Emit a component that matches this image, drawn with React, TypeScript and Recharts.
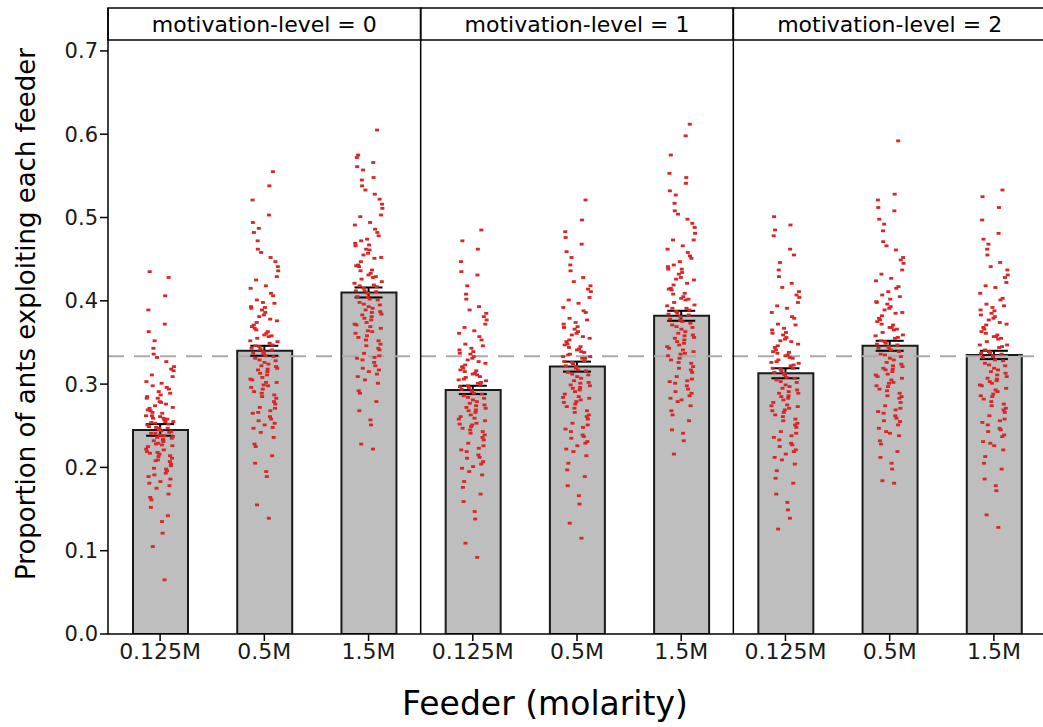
import React from 'react';
import { ComposedChart, Bar, Scatter, XAxis, YAxis, ReferenceLine, ReferenceArea, ErrorBar } from 'recharts';

const feeders = ['0.125M', '0.5M', '1.5M'];
const motivationLevels = ['0', '1', '2'];
const meanProportion = [0.245, 0.340, 0.410, 0.293, 0.321, 0.382, 0.313, 0.346, 0.335];
const stdError = [0.007, 0.006, 0.006, 0.005, 0.006, 0.006, 0.006, 0.006, 0.005];
const chanceLevel = 1 / 3;
const yTicks = [0, 0.1, 0.2, 0.3, 0.4, 0.5, 0.6, 0.7];

// per-colony proportions, one list per bar (level 0..2 x feeder)
const colonyProportions: number[][] = [
  [0.262,0.231,0.298,0.214,0.247,0.189,0.276,0.253,0.309,0.227,0.241,0.168,
   0.283,0.219,0.257,0.336,0.204,0.239,0.271,0.196,0.248,0.316,0.233,0.262,
   0.178,0.291,0.225,0.255,0.352,0.211,0.244,0.268,0.142,0.236,0.303,0.221,
   0.259,0.186,0.279,0.249,0.327,0.208,0.237,0.265,0.161,0.294,0.229,0.251,
   0.372,0.199,0.243,0.287,0.217,0.258,0.175,0.321,0.234,0.266,0.207,0.245,
   0.389,0.193,0.274,0.226,0.301,0.152,0.252,0.218,0.283,0.238,0.343,0.202,
   0.261,0.181,0.296,0.228,0.255,0.121,0.311,0.242,0.213,0.269,0.406,0.191,
   0.235,0.278,0.164,0.247,0.332,0.222,0.259,0.105,0.289,0.216,0.363,0.198,
   0.241,0.272,0.135,0.254,0.428,0.209,0.285,0.065,0.232,0.318,0.183,0.435],
  [0.352,0.318,0.401,0.287,0.339,0.265,0.378,0.345,0.429,0.302,0.331,0.248,
   0.389,0.296,0.357,0.462,0.276,0.326,0.371,0.258,0.342,0.441,0.311,0.365,
   0.236,0.398,0.305,0.349,0.487,0.283,0.334,0.367,0.214,0.322,0.415,0.298,
   0.355,0.253,0.383,0.337,0.452,0.272,0.319,0.361,0.225,0.406,0.308,0.343,
   0.503,0.266,0.328,0.392,0.291,0.358,0.242,0.436,0.315,0.374,0.279,0.336,
   0.521,0.261,0.381,0.302,0.418,0.205,0.347,0.289,0.393,0.324,0.472,0.271,
   0.359,0.247,0.409,0.313,0.351,0.189,0.425,0.333,0.294,0.369,0.538,0.256,
   0.321,0.386,0.228,0.341,0.458,0.306,0.363,0.155,0.397,0.299,0.494,0.268,
   0.329,0.376,0.195,0.346,0.555,0.285,0.391,0.139,0.317,0.447,0.251,0.482],
  [0.421,0.386,0.472,0.352,0.409,0.331,0.451,0.415,0.503,0.369,0.398,0.312,
   0.462,0.361,0.428,0.538,0.341,0.393,0.443,0.322,0.412,0.516,0.377,0.436,
   0.301,0.474,0.371,0.419,0.557,0.348,0.402,0.441,0.279,0.389,0.491,0.363,
   0.426,0.317,0.457,0.405,0.528,0.337,0.384,0.433,0.289,0.482,0.374,0.412,
   0.566,0.329,0.395,0.467,0.356,0.429,0.305,0.511,0.381,0.447,0.343,0.404,
   0.572,0.326,0.455,0.367,0.494,0.268,0.417,0.353,0.469,0.391,0.545,0.334,
   0.431,0.309,0.486,0.379,0.423,0.251,0.501,0.401,0.358,0.442,0.548,0.319,
   0.387,0.461,0.292,0.411,0.533,0.372,0.437,0.228,0.478,0.364,0.561,0.332,
   0.396,0.452,0.257,0.418,0.605,0.346,0.466,0.222,0.383,0.522,0.315,0.575],
  [0.305,0.274,0.348,0.243,0.292,0.221,0.327,0.298,0.372,0.259,0.286,0.204,
   0.336,0.252,0.311,0.402,0.233,0.281,0.321,0.212,0.296,0.385,0.266,0.315,
   0.191,0.343,0.261,0.301,0.418,0.239,0.289,0.319,0.168,0.277,0.361,0.253,
   0.308,0.207,0.331,0.294,0.393,0.229,0.271,0.313,0.183,0.353,0.263,0.297,
   0.431,0.219,0.283,0.339,0.247,0.309,0.195,0.377,0.269,0.323,0.236,0.291,
   0.447,0.215,0.329,0.256,0.364,0.159,0.302,0.245,0.341,0.279,0.408,0.226,
   0.312,0.199,0.357,0.268,0.304,0.138,0.368,0.288,0.249,0.317,0.462,0.211,
   0.275,0.333,0.176,0.299,0.389,0.258,0.316,0.109,0.346,0.251,0.435,0.223,
   0.284,0.325,0.147,0.306,0.485,0.241,0.337,0.092,0.272,0.381,0.201,0.472],
  [0.333,0.301,0.379,0.268,0.321,0.246,0.357,0.326,0.404,0.285,0.314,0.229,
   0.366,0.278,0.339,0.436,0.258,0.309,0.351,0.237,0.324,0.418,0.293,0.344,
   0.214,0.374,0.288,0.331,0.452,0.263,0.317,0.348,0.189,0.304,0.392,0.281,
   0.336,0.231,0.361,0.322,0.428,0.253,0.298,0.342,0.205,0.386,0.291,0.327,
   0.468,0.243,0.311,0.369,0.273,0.338,0.219,0.411,0.296,0.353,0.261,0.319,
   0.483,0.239,0.359,0.283,0.397,0.178,0.331,0.271,0.372,0.307,0.443,0.251,
   0.341,0.222,0.388,0.295,0.333,0.156,0.401,0.316,0.276,0.347,0.497,0.235,
   0.302,0.363,0.197,0.328,0.423,0.284,0.345,0.133,0.377,0.279,0.476,0.248,
   0.312,0.355,0.166,0.335,0.521,0.266,0.368,0.115,0.299,0.414,0.226,0.459],
  [0.394,0.358,0.443,0.325,0.381,0.303,0.421,0.387,0.473,0.341,0.371,0.286,
   0.432,0.334,0.401,0.508,0.314,0.366,0.415,0.294,0.385,0.488,0.349,0.408,
   0.274,0.447,0.343,0.391,0.527,0.321,0.375,0.413,0.256,0.361,0.462,0.337,
   0.398,0.289,0.428,0.378,0.498,0.309,0.356,0.405,0.263,0.454,0.347,0.384,
   0.541,0.301,0.368,0.438,0.329,0.402,0.279,0.481,0.353,0.419,0.317,0.377,
   0.553,0.298,0.426,0.339,0.466,0.245,0.389,0.326,0.441,0.363,0.517,0.306,
   0.403,0.283,0.458,0.351,0.395,0.232,0.473,0.373,0.331,0.414,0.548,0.291,
   0.359,0.434,0.268,0.383,0.504,0.345,0.409,0.216,0.451,0.336,0.532,0.304,
   0.369,0.425,0.241,0.391,0.612,0.319,0.438,0.598,0.355,0.493,0.281,0.575],
  [0.326,0.291,0.372,0.258,0.313,0.236,0.351,0.318,0.398,0.275,0.305,0.219,
   0.359,0.268,0.332,0.429,0.248,0.299,0.344,0.227,0.316,0.411,0.283,0.337,
   0.204,0.367,0.278,0.322,0.446,0.253,0.308,0.341,0.181,0.295,0.386,0.271,
   0.329,0.221,0.354,0.314,0.421,0.243,0.289,0.335,0.196,0.379,0.281,0.319,
   0.462,0.233,0.302,0.362,0.263,0.331,0.209,0.404,0.286,0.346,0.251,0.311,
   0.478,0.229,0.352,0.273,0.391,0.168,0.323,0.261,0.365,0.297,0.437,0.241,
   0.334,0.212,0.381,0.285,0.325,0.149,0.394,0.307,0.266,0.339,0.491,0.225,
   0.293,0.356,0.187,0.319,0.416,0.274,0.338,0.126,0.371,0.269,0.501,0.238,
   0.303,0.348,0.158,0.327,0.455,0.256,0.361,0.139,0.289,0.407,0.216,0.485],
  [0.358,0.322,0.407,0.289,0.345,0.267,0.385,0.351,0.437,0.305,0.336,0.251,
   0.396,0.298,0.365,0.471,0.278,0.331,0.379,0.259,0.349,0.452,0.315,0.372,
   0.238,0.411,0.309,0.355,0.492,0.285,0.341,0.377,0.219,0.326,0.424,0.302,
   0.362,0.255,0.391,0.343,0.461,0.274,0.321,0.368,0.228,0.417,0.312,0.348,
   0.508,0.265,0.333,0.402,0.294,0.366,0.243,0.445,0.318,0.382,0.283,0.344,
   0.521,0.262,0.389,0.307,0.427,0.212,0.356,0.292,0.399,0.329,0.484,0.271,
   0.368,0.247,0.415,0.317,0.359,0.198,0.432,0.339,0.297,0.375,0.528,0.256,
   0.324,0.393,0.232,0.347,0.466,0.311,0.371,0.184,0.405,0.301,0.512,0.269,
   0.335,0.386,0.205,0.352,0.592,0.286,0.398,0.181,0.319,0.449,0.241,0.498],
  [0.347,0.311,0.396,0.276,0.334,0.254,0.374,0.339,0.422,0.293,0.325,0.237,
   0.385,0.286,0.354,0.455,0.266,0.319,0.368,0.245,0.338,0.437,0.304,0.361,
   0.221,0.392,0.298,0.344,0.468,0.271,0.329,0.366,0.198,0.315,0.409,0.291,
   0.351,0.239,0.379,0.332,0.446,0.262,0.309,0.357,0.213,0.403,0.301,0.337,
   0.481,0.251,0.322,0.388,0.282,0.355,0.229,0.431,0.306,0.371,0.269,0.333,
   0.497,0.247,0.377,0.295,0.416,0.186,0.345,0.279,0.389,0.317,0.462,0.258,
   0.357,0.231,0.401,0.303,0.347,0.172,0.418,0.328,0.285,0.363,0.512,0.243,
   0.313,0.381,0.205,0.336,0.441,0.299,0.359,0.143,0.394,0.288,0.525,0.256,
   0.323,0.372,0.178,0.341,0.533,0.274,0.383,0.128,0.307,0.428,0.226,0.474],
];

const FONT = "'DejaVu Sans', Verdana, sans-serif";
const Y_TOP = 0.7515;
const STRIP_BOTTOM = 0.713;

const barData = meanProportion.map((mean, i) => ({
  key: `${motivationLevels[Math.floor(i / 3)]}-${feeders[i % 3]}`,
  x: i + 0.5,
  mean,
  err: stdError[i],
}));

// horizontal jitter only (golden-ratio spread inside the band)
const jitter = (j: number) => (((j * 0.618034) % 1) - 0.5) * 0.27;
const pointData = colonyProportions.flatMap((vals, i) =>
  vals.map((y, j) => ({ x: i + 0.5 + jitter(j), y }))
);

const xTicks = barData.map((d) => d.x);

const Dot = (props: any) => (
  <rect x={props.cx - 2} y={props.cy - 1.4} width={4} height={2.8} fill="#d92626" />
);

const App: React.FC = () => {
  return (
    <div style={{ position: 'absolute', left: 0, top: 0, width: 1043, height: 727, overflow: 'hidden', background: '#fff' }}>
      <ComposedChart width={1050} height={727} data={barData} margin={{ top: 8, right: 4, bottom: 0, left: 0 }}>
        <XAxis xAxisId="cat" type="category" dataKey="key" hide />
        <XAxis
          type="number"
          dataKey="x"
          domain={[0, 9]}
          ticks={xTicks}
          allowDataOverflow
          height={93}
          tickSize={7}
          interval={0}
          tickFormatter={(v: number) => feeders[Math.floor(v) % 3]}
          tick={{ fontSize: 22, fill: '#1a1a1a', fontFamily: FONT }}
          axisLine={{ stroke: '#000', strokeWidth: 1.5 }}
          tickLine={{ stroke: '#000', strokeWidth: 1.5 }}
          label={{
            content: () => (
              <text x={545} y={715} textAnchor="middle" fontSize={33} fontFamily={FONT} fill="#000">
                Feeder (molarity)
              </text>
            ),
          }}
        />
        <YAxis
          type="number"
          domain={[0, Y_TOP]}
          ticks={yTicks}
          allowDataOverflow
          width={108}
          tickSize={8}
          tickFormatter={(v: number) => v.toFixed(1)}
          tick={{ fontSize: 21, fill: '#1a1a1a', fontFamily: FONT }}
          axisLine={{ stroke: '#000', strokeWidth: 1.5 }}
          tickLine={{ stroke: '#000', strokeWidth: 1.5 }}
          label={{
            content: () => (
              <text
                x={0}
                y={0}
                transform="translate(35 314) rotate(-90)"
                textAnchor="middle"
                fontSize={26}
                fontFamily={FONT}
                fill="#000"
              >
                Proportion of ants exploiting each feeder
              </text>
            ),
          }}
        />
        <ReferenceLine y={chanceLevel} stroke="#aaaaaa" strokeWidth={2} strokeDasharray="16 10" />
        <Bar xAxisId="cat" dataKey="mean" barSize={55} fill="#bebebe" stroke="#1a1a1a" strokeWidth={2} isAnimationActive={false} />
        <Scatter data={pointData} dataKey="y" shape={Dot} isAnimationActive={false} />
        <Scatter data={barData} dataKey="mean" shape={() => <g />} isAnimationActive={false}>
          <ErrorBar dataKey="err" direction="y" width={14} stroke="#000" strokeWidth={2} />
        </Scatter>
        {motivationLevels.map((lvl, k) => (
          <ReferenceArea
            key={lvl}
            x1={k * 3}
            x2={k * 3 + 3}
            y1={STRIP_BOTTOM}
            y2={Y_TOP}
            fill="#fff"
            fillOpacity={1}
            stroke="#000"
            strokeWidth={1.5}
            ifOverflow="visible"
            label={{ value: `motivation-level = ${lvl}`, position: 'center', fontSize: 22, fill: '#000', fontFamily: FONT }}
          />
        ))}
        <ReferenceLine x={3} stroke="#000" strokeWidth={1.5} />
        <ReferenceLine x={6} stroke="#000" strokeWidth={1.5} />
        <ReferenceLine x={9} stroke="#000" strokeWidth={1.5} />
      </ComposedChart>
    </div>
  );
};

export default App;
